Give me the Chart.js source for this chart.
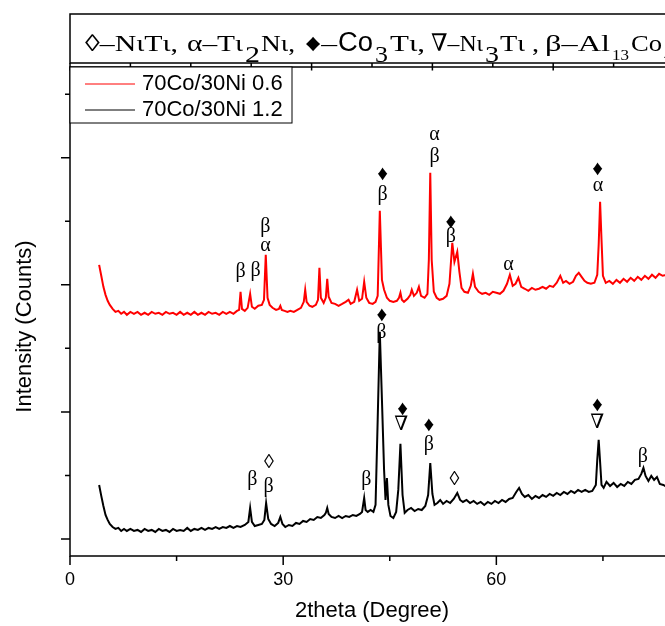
<!DOCTYPE html>
<html>
<head>
<meta charset="utf-8">
<script src="https://cdn.jsdelivr.net/npm/chart.js@4"></script>
<style>
html, body { margin: 0; padding: 0; background: #fff; overflow: hidden; }
#wrap { width: 680px; height: 626px; }
</style>
</head>
<body>
<div id="wrap"><canvas id="xrd" width="680" height="626"></canvas></div>
<script>
// axis ticks (2theta in degrees, intensity in counts)
const xTicks = [0, 15, 30, 45, 60, 75];
const topTicks = [0, 8.5, 17, 25.5, 34, 42.5, 51, 59.5, 68, 76.5, 85];
const yTicks = [0, 500, 1000, 1500, 2000, 2500, 3000, 3500];

const seriesNames = ['70Co/30Ni 0.6', '70Co/30Ni 1.2'];

// [2theta, counts]
const red06 = [
    [4.1, 2157], [4.4, 2071], [4.7, 1984], [5.0, 1921], [5.3, 1874], [5.6, 1842], [6.0, 1811], [6.4, 1787],
    [6.8, 1795], [7.2, 1772], [7.6, 1787], [8.0, 1764], [8.5, 1787], [9.0, 1772], [9.5, 1787], [10.0, 1764],
    [10.5, 1780], [11.0, 1764], [11.5, 1787], [12.0, 1772], [12.5, 1780], [13.0, 1764], [13.5, 1787], [14.0, 1772],
    [14.5, 1780], [15.0, 1764], [15.5, 1787], [16.0, 1764], [16.5, 1780], [17.0, 1764], [17.5, 1787], [18.0, 1764],
    [18.5, 1780], [19.0, 1764], [19.5, 1787], [20.0, 1772], [20.5, 1780], [21.0, 1764], [21.5, 1787], [22.0, 1772],
    [22.5, 1787], [23.0, 1772], [23.5, 1795], [23.8, 1803], [24.0, 1945], [24.2, 1811], [24.6, 1795], [25.0, 1819],
    [25.35, 1929], [25.6, 1827], [26.0, 1811], [26.5, 1835], [27.0, 1842], [27.3, 1882], [27.55, 2236], [27.8, 1898],
    [28.1, 1842], [28.5, 1819], [29.0, 1803], [29.4, 1811], [29.6, 1835], [29.8, 1803], [30.2, 1795], [30.6, 1787],
    [31.0, 1795], [31.5, 1787], [32.0, 1803], [32.5, 1819], [32.9, 1866], [33.1, 1961], [33.3, 1866], [33.7, 1835],
    [34.1, 1827], [34.6, 1842], [34.9, 1882], [35.1, 2134], [35.3, 1898], [35.7, 1858], [36.0, 1898], [36.2, 2047],
    [36.4, 1906], [36.8, 1858], [37.3, 1850], [37.8, 1835], [38.3, 1850], [38.8, 1866], [39.2, 1882], [39.5, 1850],
    [40.0, 1866], [40.4, 1961], [40.7, 1874], [41.1, 1890], [41.4, 2024], [41.7, 1898], [42.1, 1858], [42.6, 1850],
    [43.0, 1866], [43.3, 1913], [43.6, 2583], [43.9, 2039], [44.2, 1961], [44.6, 1898], [45.0, 1874], [45.5, 1866],
    [46.0, 1874], [46.3, 1898], [46.5, 1937], [46.7, 1882], [47.0, 1866], [47.5, 1890], [47.9, 1921], [48.1, 1961],
    [48.4, 1913], [48.8, 1937], [49.1, 1984], [49.4, 1913], [49.9, 1898], [50.3, 1929], [50.5, 2197], [50.7, 2882],
    [50.9, 2197], [51.2, 1945], [51.6, 1898], [52.0, 1882], [52.5, 1890], [53.0, 1913], [53.4, 2008], [53.8, 2331],
    [54.1, 2181], [54.5, 2260], [54.8, 2102], [55.1, 1976], [55.5, 1945], [56.0, 1937], [56.4, 1992], [56.7, 2087],
    [57.0, 1984], [57.5, 1945], [58.0, 1929], [58.5, 1937], [59.0, 1921], [59.5, 1945], [60.0, 1937], [60.5, 1929],
    [61.0, 1953], [61.5, 2008], [61.9, 2079], [62.3, 1992], [62.7, 2008], [63.1, 2055], [63.5, 1984], [64.0, 1969],
    [64.5, 1953], [65.0, 1976], [65.5, 1961], [66.0, 1969], [66.5, 1984], [67.0, 1969], [67.5, 1992], [68.0, 1984],
    [68.5, 2016], [69.0, 2071], [69.4, 2016], [69.8, 2031], [70.3, 2008], [70.8, 2024], [71.2, 2071], [71.6, 2094],
    [72.0, 2063], [72.4, 2031], [72.8, 2016], [73.3, 2008], [73.8, 2016], [74.2, 2079], [74.4, 2315], [74.6, 2654],
    [74.8, 2354], [75.0, 2071], [75.4, 2016], [75.9, 2031], [76.4, 2008], [76.9, 2039], [77.4, 2016], [77.9, 2047],
    [78.4, 2024], [78.9, 2055], [79.4, 2031], [79.9, 2063], [80.4, 2039], [80.9, 2071], [81.4, 2047], [81.9, 2079],
    [82.4, 2055], [82.9, 2087], [83.4, 2071], [84.0, 2079], [84.5, 2063]
];

const black12 = [
    [4.1, 425], [4.4, 339], [4.7, 260], [5.0, 189], [5.3, 150], [5.6, 118], [6.0, 94], [6.4, 79],
    [6.8, 87], [7.2, 63], [7.6, 79], [8.0, 63], [8.5, 79], [9.0, 63], [9.5, 71], [10.0, 55],
    [10.5, 79], [11.0, 63], [11.5, 71], [12.0, 55], [12.5, 79], [13.0, 63], [13.5, 71], [14.0, 55],
    [14.5, 79], [15.0, 63], [15.5, 71], [16.0, 63], [16.5, 87], [17.0, 63], [17.5, 79], [18.0, 71],
    [18.5, 87], [19.0, 71], [19.5, 87], [20.0, 79], [20.5, 94], [21.0, 79], [21.5, 94], [22.0, 87],
    [22.5, 102], [23.0, 87], [23.5, 102], [24.0, 94], [24.6, 110], [25.1, 134], [25.35, 244], [25.6, 134],
    [26.0, 102], [26.5, 110], [27.0, 118], [27.35, 150], [27.6, 283], [27.9, 157], [28.3, 118], [28.8, 102],
    [29.3, 126], [29.6, 173], [29.9, 118], [30.3, 94], [30.8, 110], [31.3, 102], [31.8, 126], [32.3, 118],
    [32.8, 142], [33.3, 134], [33.8, 157], [34.3, 150], [34.8, 173], [35.3, 165], [35.8, 189], [36.0, 205],
    [36.2, 244], [36.4, 197], [36.8, 173], [37.3, 165], [37.8, 181], [38.3, 165], [38.8, 181], [39.3, 173],
    [39.8, 189], [40.3, 181], [40.8, 197], [41.1, 213], [41.4, 323], [41.6, 228], [41.9, 213], [42.3, 228],
    [42.7, 213], [43.0, 268], [43.3, 937], [43.6, 1630], [43.9, 1094], [44.2, 543], [44.4, 307], [44.6, 480],
    [44.8, 268], [45.1, 181], [45.5, 165], [45.9, 213], [46.2, 386], [46.5, 748], [46.8, 346], [47.1, 205],
    [47.5, 228], [48.0, 244], [48.5, 220], [49.0, 236], [49.5, 228], [50.0, 260], [50.4, 346], [50.7, 598],
    [51.0, 354], [51.3, 268], [51.7, 283], [52.1, 307], [52.5, 276], [53.0, 299], [53.5, 283], [54.0, 315],
    [54.5, 362], [54.9, 307], [55.3, 291], [55.8, 307], [56.3, 283], [56.8, 299], [57.3, 276], [57.8, 291],
    [58.3, 268], [58.8, 291], [59.3, 276], [59.8, 299], [60.3, 283], [60.8, 307], [61.3, 291], [61.8, 315],
    [62.3, 323], [62.8, 370], [63.2, 402], [63.6, 354], [64.0, 331], [64.5, 346], [65.0, 315], [65.5, 339],
    [66.0, 323], [66.5, 346], [67.0, 331], [67.5, 354], [68.0, 339], [68.5, 362], [69.0, 346], [69.5, 370],
    [70.0, 354], [70.5, 378], [71.0, 362], [71.5, 386], [72.0, 370], [72.5, 386], [73.0, 370], [73.5, 378],
    [74.0, 425], [74.2, 622], [74.4, 780], [74.6, 606], [74.8, 425], [75.1, 402], [75.5, 449], [76.0, 417],
    [76.5, 441], [77.0, 409], [77.5, 433], [78.0, 417], [78.5, 449], [79.0, 433], [79.5, 465], [80.0, 472],
    [80.4, 512], [80.7, 559], [81.0, 496], [81.4, 457], [81.8, 496], [82.2, 465], [82.6, 488], [83.0, 433],
    [83.5, 425], [84.0, 409], [84.5, 425]
];

// phase marks: [2theta, counts, symbol]
const red06Marks = [
    [24.0, 2102, 'β'], [26.1, 2110, 'β'], [27.5, 2457, 'β'], [27.5, 2307, 'α'],
    [44.0, 2866, '♦'], [44.0, 2709, 'β'], [51.3, 3181, 'α'], [51.3, 3008, 'β'],
    [53.6, 2491, '♦'], [53.6, 2378, 'β'], [61.7, 2157, 'α'], [74.25, 2906, '♦'], [74.3, 2780, 'α']
];
const black12Marks = [
    [43.9, 1756, '♦'], [43.8, 1620, 'β'], [41.7, 465, 'β'], [46.8, 1016, '♦'], [46.6, 898, '∇'],
    [50.5, 890, '♦'], [50.5, 740, 'β'], [54.1, 465, '◊'], [25.65, 465, 'β'], [28.0, 601, '◊'],
    [27.95, 412, 'β'], [74.2, 1053, '♦'], [74.2, 916, '∇'], [80.6, 648, 'β']
];

const serif = '"Liberation Serif", "DejaVu Serif", serif';
const sans = '"Liberation Sans", Arial, sans-serif';

// header key: [text, kind, left, width]  n = normal, s = subscript, c = sans, k = small subscript
const header = [
    ['◊–NιTι,', 'n', 85, 93], ['α–Tι', 'n', 187, 56], ['2', 's', 245, 15], ['Nι,', 'n', 261, 34],
    ['♦–', 'n', 305, 32], ['Co', 'c', 338, 35], ['3', 's', 375, 13], ['Tι,', 'n', 390, 35],
    ['∇–Nι', 'n', 431, 52], ['3', 's', 485, 14], ['Tι ,', 'n', 500, 39], ['β–Al', 'n', 545, 65],
    ['13', 'k', 612, 17], ['Co', 'n', 631, 31], ['4', 'k', 664, 9]
];

function toXY(pairs) {
    return pairs.map(p => ({ x: p[0], y: p[1] }));
}

const framePlugin = {
    id: 'frame',
    afterDatasetsDraw(chart) {
        const { ctx, scales: { x, y } } = chart;
        ctx.save();
        ctx.fillStyle = '#000';
        ctx.textAlign = 'center';
        ctx.textBaseline = 'middle';
        chart.data.datasets.forEach(ds => {
            ds.marks.forEach(m => {
                ctx.font = (m[2] === '♦' ? '21px ' : '20px ') + serif;
                ctx.fillText(m[2], x.getPixelForValue(m[0]), y.getPixelForValue(m[1]));
            });
        });
        ctx.restore();
    },
    afterDraw(chart) {
        const { ctx, chartArea: a, scales: { x, y } } = chart;
        ctx.save();
        ctx.strokeStyle = '#000';
        ctx.lineWidth = 1.5;
        ctx.strokeRect(a.left, a.top, a.right - a.left, a.bottom - a.top);

        ctx.beginPath();
        xTicks.forEach(v => {
            const px = x.getPixelForValue(v);
            ctx.moveTo(px, a.bottom);
            ctx.lineTo(px, a.bottom + (v % 30 === 0 ? 9 : 5));
        });
        yTicks.forEach(v => {
            const py = y.getPixelForValue(v);
            ctx.moveTo(a.left, py);
            ctx.lineTo(a.left - (v % 1000 === 0 ? 9 : 5), py);
        });
        topTicks.forEach(v => {
            const px = x.getPixelForValue(v);
            ctx.moveTo(px, a.top - 4);
            ctx.lineTo(px, v % 17 === 0 ? a.top + 3.5 : a.top);
        });
        ctx.stroke();

        // y axis title
        ctx.save();
        ctx.translate(25, (a.top + a.bottom) / 2 + 15);
        ctx.rotate(-Math.PI / 2);
        ctx.fillStyle = '#000';
        ctx.font = '22px ' + sans;
        ctx.textAlign = 'center';
        ctx.textBaseline = 'middle';
        ctx.fillText('Intensity (Counts)', 0, 0);
        ctx.restore();

        // header key box
        const hTop = 14, hBottom = a.top - 4;
        ctx.strokeRect(a.left, hTop, a.right - a.left, hBottom - hTop);
        ctx.fillStyle = '#000';
        ctx.textAlign = 'left';
        ctx.textBaseline = 'alphabetic';
        header.forEach(([t, kind, hx, hw]) => {
            let dy = 0;
            if (kind === 'n') ctx.font = '24px ' + serif;
            if (kind === 'c') ctx.font = '27px ' + sans;
            if (kind === 's') { ctx.font = '24px ' + serif; dy = 11; }
            if (kind === 'k') { ctx.font = '15px ' + serif; dy = 9; }
            const w = ctx.measureText(t).width;
            ctx.save();
            ctx.translate(hx, 51 + dy);
            ctx.scale(hw / w, 1);
            ctx.fillText(t, 0, 0);
            ctx.restore();
        });

        // legend box
        ctx.fillStyle = '#fff';
        ctx.fillRect(a.left, a.top, 222, 56);
        ctx.lineWidth = 1;
        ctx.strokeRect(a.left, a.top, 222, 56);
        ctx.font = '22px ' + sans;
        ctx.textBaseline = 'middle';
        chart.data.datasets.forEach((ds, i) => {
            const ly = a.top + 17 + i * 26;
            ctx.strokeStyle = ds.borderColor;
            ctx.beginPath();
            ctx.moveTo(a.left + 15, ly);
            ctx.lineTo(a.left + 65, ly);
            ctx.stroke();
            ctx.fillStyle = '#000';
            ctx.fillText(ds.label, a.left + 72, ly);
        });
        ctx.restore();
    }
};

const ctx = document.getElementById('xrd').getContext('2d');

new Chart(ctx, {
    type: 'line',
    data: {
        datasets: [
            {
                label: seriesNames[0],
                data: toXY(red06),
                marks: red06Marks,
                borderColor: '#ff0000',
                borderWidth: 2,
                pointRadius: 0,
                tension: 0
            },
            {
                label: seriesNames[1],
                data: toXY(black12),
                marks: black12Marks,
                borderColor: '#000000',
                borderWidth: 2,
                pointRadius: 0,
                tension: 0
            }
        ]
    },
    options: {
        responsive: false,
        animation: false,
        devicePixelRatio: 1,
        layout: { padding: { top: 67, right: 6, left: 0, bottom: 0 } },
        plugins: {
            legend: { display: false },
            tooltip: { enabled: false }
        },
        scales: {
            x: {
                type: 'linear',
                min: 0,
                max: 85,
                border: { display: false },
                grid: { display: false },
                afterBuildTicks: s => { s.ticks = xTicks.map(v => ({ value: v })); },
                afterFit: s => { s.height = 70; },
                ticks: {
                    callback: v => (v % 30 === 0 ? String(v) : ''),
                    padding: 5,
                    color: '#000',
                    maxRotation: 0,
                    autoSkip: false,
                    font: { family: sans, size: 18 }
                },
                title: {
                    display: true,
                    text: '2theta (Degree)',
                    color: '#000',
                    font: { family: sans, size: 22 },
                    padding: { top: 0, bottom: 2 }
                }
            },
            y: {
                min: -134,
                max: 3714,
                border: { display: false },
                grid: { display: false },
                afterBuildTicks: s => { s.ticks = yTicks.map(v => ({ value: v })); },
                afterFit: s => { s.width = 70; },
                ticks: { display: false },
                title: { display: false }
            }
        }
    },
    plugins: [framePlugin]
});
</script>
</body>
</html>
